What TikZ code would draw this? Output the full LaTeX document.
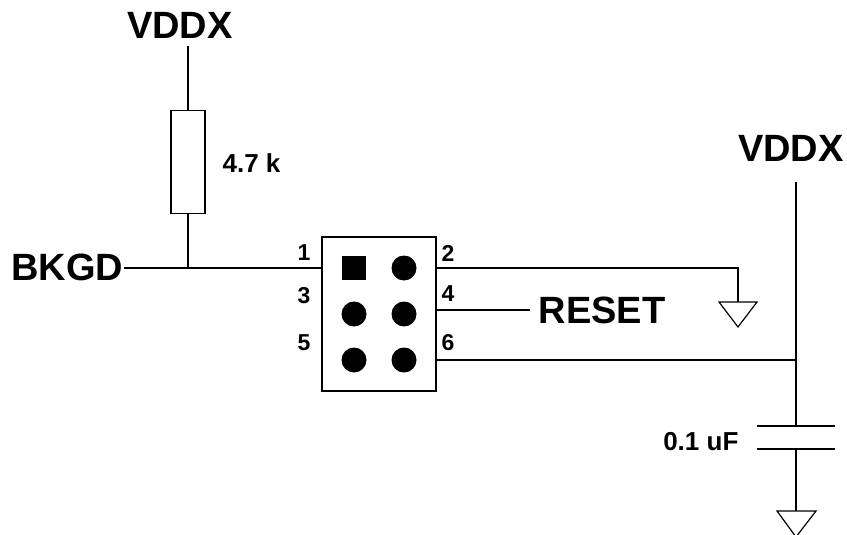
\documentclass[tikz,border=0pt]{standalone}
\usepackage{fontspec}
\setmainfont{Liberation Sans}
\tikzset{
  bigtext/.style={inner sep=0pt,font=\fontsize{38}{40}\selectfont\bfseries},
  smalltext/.style={inner sep=0pt,font=\fontsize{26}{28}\selectfont\bfseries},
  pintext/.style={inner sep=0pt,font=\fontsize{23}{25}\selectfont\bfseries},
  wire/.style={line width=1.2pt},
  pad/.style={circle,fill,inner sep=0pt,minimum size=25pt},
}
\begin{document}
\begin{tikzpicture}[x=1pt,y=-1pt,wire]
\useasboundingbox (0,0) rectangle (847,535);

\node[bigtext] (V1) at (180,25) {VDDX};
\node[bigtext] (V2) at (791,148) {VDDX};
\node[bigtext,anchor=east] (BK) at (124,267) {BKGD};
\node[bigtext,anchor=west] (RS) at (538,310) {RESET};
\node[smalltext,anchor=west] (RV) at (222,163) {4.7 k};
\node[smalltext,anchor=east] (CV) at (739,442) {0.1 uF};

%resistor
\node[draw,wire,minimum width=34pt,minimum height=103pt,inner sep=0pt] (R) at (188,162) {};
\coordinate (J1) at (188,268);
\coordinate (T1) at (188,46);
\draw (T1) -- (R.north);
\draw (R.south) -- (J1);
\draw (BK.east |- J1) -- (J1);

%header
\node[draw,line width=2.6pt,minimum width=114pt,minimum height=154pt,inner sep=0pt] (H) at (379,314) {};
\node[fill,inner sep=0pt,minimum size=24pt] (P1) at (354,268) {};
\node[pad] (P2) at (404,268) {};
\node[pad] (P3) at (354,314) {};
\node[pad] (P4) at (404,314) {};
\node[pad] (P5) at (354,360) {};
\node[pad] (P6) at (404,360) {};

\node[pintext] (N1) at (304,253) {1};
\node[pintext] (N3) at (304,296) {3};
\node[pintext] (N5) at (304,343) {5};
\node[pintext] (N2) at (448,253) {2};
\node[pintext] (N4) at (448,294) {4};
\node[pintext] (N6) at (448,343) {6};

\coordinate (L1) at (H.west |- J1);
\coordinate (L2) at (H.east |- J1);
\coordinate (L4) at (436,310);
\coordinate (L4e) at (530,310);
\coordinate (L6) at (436,360);
\draw (J1) -- (L1);
\draw (L4) -- (L4e);

%ground 1
\coordinate (G1) at (738,268);
\coordinate (G1t) at (738,302);
\draw (L2) -- (G1) -- (G1t);
\draw (719,302) -- (757,302) -- (738,327) -- cycle;

%cap
\coordinate (T2) at (796,182);
\coordinate (J2) at (796,360);
\coordinate (C1) at (796,426);
\coordinate (C2) at (796,449);
\coordinate (G2) at (796,511);
\draw (T2) -- (J2) -- (C1);
\draw (L6) -- (J2);
\draw (757,426) -- (835,426);
\draw (757,449) -- (835,449);
\draw (C2) -- (G2);
\draw (777,511) -- (816,511) -- (796,537) -- cycle;
\end{tikzpicture}
\end{document}
